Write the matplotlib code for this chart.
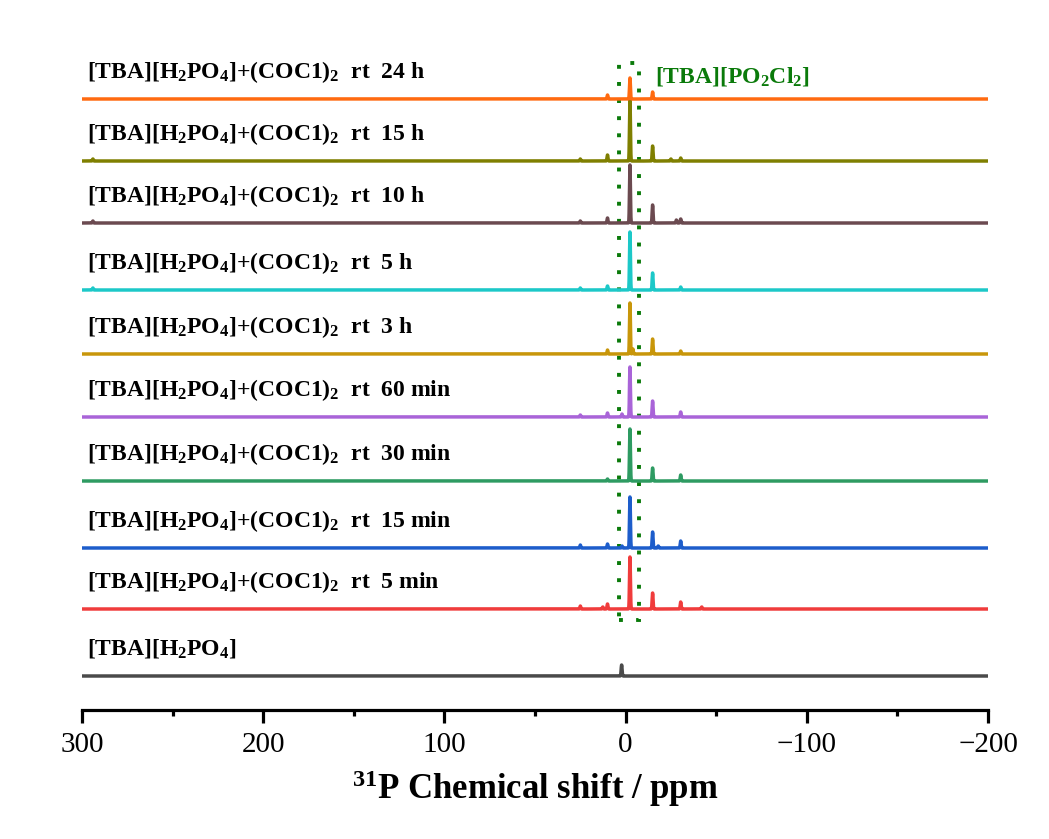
import numpy as np
import matplotlib
matplotlib.use("Agg")
import matplotlib.pyplot as plt
from matplotlib.patches import Rectangle

plt.rcParams['font.family'] = ['Liberation Serif', 'DejaVu Serif']
plt.rcParams['mathtext.fontset'] = 'custom'
plt.rcParams['mathtext.rm'] = 'Liberation Serif'
plt.rcParams['mathtext.bf'] = 'Liberation Serif:bold'
plt.rcParams['mathtext.default'] = 'bf'

# ---------------- data (bottom trace first) ----------------
labels = [
    "[TBA][H$_2$PO$_4$]",
    "[TBA][H$_2$PO$_4$]+(COC1)$_2$  rt  5 min",
    "[TBA][H$_2$PO$_4$]+(COC1)$_2$  rt  15 min",
    "[TBA][H$_2$PO$_4$]+(COC1)$_2$  rt  30 min",
    "[TBA][H$_2$PO$_4$]+(COC1)$_2$  rt  60 min",
    "[TBA][H$_2$PO$_4$]+(COC1)$_2$  rt  3 h",
    "[TBA][H$_2$PO$_4$]+(COC1)$_2$  rt  5 h",
    "[TBA][H$_2$PO$_4$]+(COC1)$_2$  rt  10 h",
    "[TBA][H$_2$PO$_4$]+(COC1)$_2$  rt  15 h",
    "[TBA][H$_2$PO$_4$]+(COC1)$_2$  rt  24 h",
]
colors = ["#4A4A4A", "#F03C3C", "#1D5DCB", "#2E9B62", "#A964D8",
          "#C8960A", "#1CC8C8", "#6B4A50", "#7F7F00", "#FF6A10"]

# peak positions (ppm) and heights (a.u.) for each spectrum
peak_ppm = [
    [2.2],
    [-2.4, -14.9, -30.4, 10.0, 12.6, 25.0, -42.0],
    [-2.4, -14.9, -30.4, 10.0, 25.0, 2.0, -18.0],
    [-2.4, -14.9, -30.4, 10.0],
    [-2.4, -14.9, -30.4, 10.0, 25.0, 2.0],
    [-2.4, -14.9, -30.4, 10.0, -4.0],
    [-2.4, -14.9, -30.4, 10.0, 25.0, 294.0],
    [-2.4, -14.9, -30.4, 10.0, 25.0, -28.0, 294.0],
    [-2.4, -14.9, -30.4, 10.0, 25.0, -25.0, 294.0],
    [-2.4, -14.9, 10.0],
]
peak_int = [
    [11],
    [52, 16, 7, 5, 2, 3, 2],
    [51, 16, 7, 4, 3, 2, 2],
    [52, 13, 6, 2],
    [50, 16, 5, 4, 2, 3],
    [51, 15, 3, 4, 5],
    [58, 17, 3, 4, 2, 2],
    [58, 18, 4, 5, 2, 3, 2],
    [62, 15, 3, 6, 2, 2, 2],
    [21, 7, 4],
]

box_ppm = (3.8, -7.2)
box_label = "[TBA][PO$_2$Cl$_2$]"
xlabel = "$^{31}$P Chemical shift / ppm"

# ---------------- layout ----------------
W, H = 1049, 839
fig = plt.figure(figsize=(W / 100, H / 100), dpi=100)
ax = fig.add_axes([82 / W, 1 - 710 / H, (988 - 82) / W, 670 / H])

offsets = [34, 101, 162, 229, 293, 356, 420, 487, 549, 611]

ppm = np.linspace(300, -200, 100001)
hw = 0.25
for lab, col, pos, inten, off in zip(labels, colors, peak_ppm, peak_int, offsets):
    y = np.zeros_like(ppm)
    for p, h in zip(pos, inten):
        y += h * np.exp(-0.5 * ((ppm - p) / hw) ** 2)
    ax.plot(ppm, y + off, color=col, lw=2.5, solid_capstyle='butt')
    ax.text(297.3, off + 21, lab, fontsize=17, fontweight='bold',
            ha='left', va='baseline', color='black')

# dotted box
rect = Rectangle((box_ppm[0], 90), box_ppm[1] - box_ppm[0], 647 - 90,
                 fill=False, edgecolor='#0A7A0A', lw=2.8,
                 linestyle=(0, (1, 3.4)))
ax.add_patch(rect)
ax.text(-16, 628, box_label, fontsize=17, fontweight='bold',
        color='#0A7A0A', ha='left', va='baseline')

ax.set_xlim(300, -200)
ax.set_ylim(0, 670)
for s in ['left', 'top', 'right']:
    ax.spines[s].set_visible(False)
ax.spines['bottom'].set_linewidth(2.3)
ax.set_yticks([])
ax.set_xticks([300, 200, 100, 0, -100, -200])
ax.set_xticklabels(['300', '200', '100', '0', '\u2212100', '\u2212200'])
ax.set_xticks([250, 150, 50, -50, -150], minor=True)
ax.tick_params(axis='x', which='major', direction='out', length=9.5,
               width=2.3, labelsize=21, pad=6)
ax.tick_params(axis='x', which='minor', direction='out', length=4.5,
               width=2.3)
ax.set_xlabel(xlabel, fontsize=25, fontweight='bold', labelpad=8)

fig.savefig("out.png", dpi=100)
